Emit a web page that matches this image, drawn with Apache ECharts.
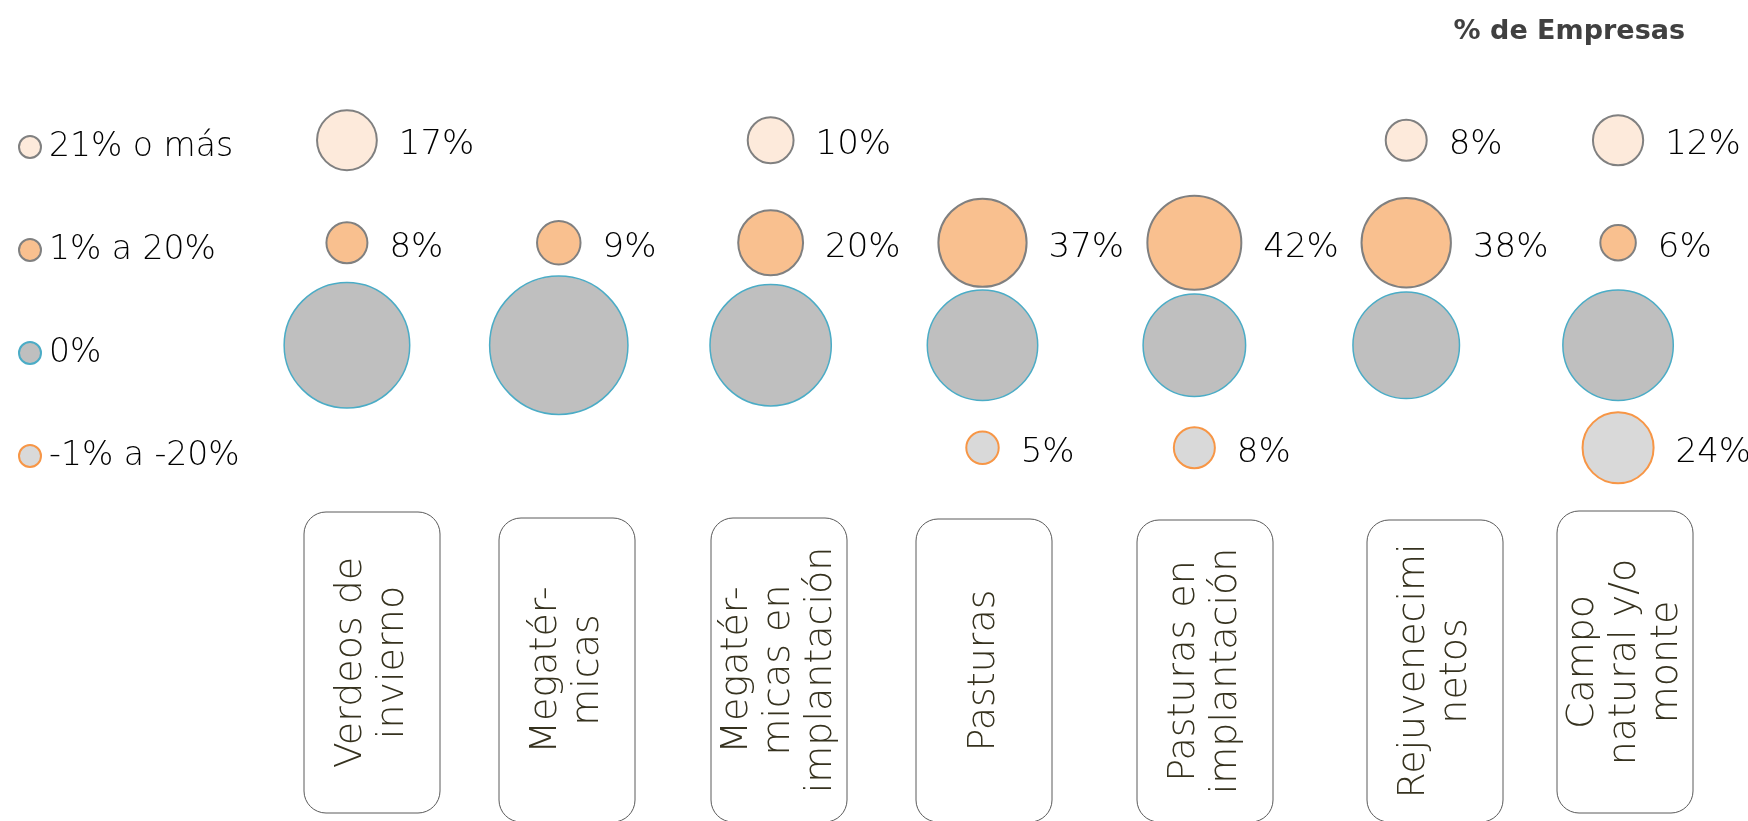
<!DOCTYPE html>
<html>
<head>
<meta charset="utf-8">
<script src="https://cdn.jsdelivr.net/npm/echarts@6/dist/echarts.min.js"></script>
<style>
html,body{margin:0;padding:0;background:#fff;}
#main{width:1748px;height:821px;}
</style>
</head>
<body>
<div id="main"></div>
<script>
// ---- data ----
const categories = ['Verdeos de\ninvierno', 'Megatér-\nmicas', 'Megatér-\nmicas en\nimplantación', 'Pasturas', 'Pasturas en\nimplantación', 'Rejuvenecimi\nnetos', 'Campo\nnatural y/o\nmonte'];
const rowNames = ['21% o más', '1% a 20%', '0%', '-1% a -20%'];
const vals21 = [17, null, 10, null, null, 8, 12];
const vals1to20 = [8, 9, 20, 37, 42, 38, 6];
const vals0 = [75, 91, 70, 58, 50, 54, 58];
const valsNeg = [null, null, null, 5, 8, null, 24];
const titleText = '% de Empresas';

// ---- layout / style ----
const FONT = '"DejaVu Sans", sans-serif';
const rowStyles = [
  { color: '#fdeadb', borderColor: '#808080', borderWidth: 2, label: true },
  { color: '#f9c08f', borderColor: '#808080', borderWidth: 2, label: true },
  { color: '#bfbfbf', borderColor: '#4bacc6', borderWidth: 1.5, label: false },
  { color: '#d9d9d9', borderColor: '#f79646', borderWidth: 2, label: true }
];
const boxCenters = [372, 567, 779, 984, 1205, 1435, 1625];
const boxTops = [512, 518, 518, 519, 520, 520, 511];
const boxBottoms = [813, 822, 822, 822, 822, 822, 813];
const BOX_W = 136;

const rows = [vals21, vals1to20, vals0, valsNeg];

const series = rows.map((vals, r) => ({
  name: rowNames[r],
  type: 'scatter',
  symbol: 'circle',
  data: vals.map((v, i) => v == null ? null : [i, r, v]).filter(d => d),
  symbolSize: d => 14.5 * Math.sqrt(d[2]),
  itemStyle: {
    color: rowStyles[r].color,
    borderColor: rowStyles[r].borderColor,
    borderWidth: rowStyles[r].borderWidth,
    opacity: 1
  },
  label: {
    show: rowStyles[r].label,
    position: 'right',
    distance: 21,
    offset: [0, 5],
    formatter: p => p.value[2] + '%',
    fontFamily: FONT,
    fontSize: 34,
    fontWeight: 300,
    color: '#000'
  },
  emphasis: { disabled: true },
  silent: true
}));

const graphics = [];
categories.forEach((c, i) => {
  const cx = boxCenters[i];
  const top = boxTops[i];
  const h = boxBottoms[i] - top;
  graphics.push({
    type: 'rect',
    shape: { x: cx - BOX_W / 2, y: top, width: BOX_W, height: h, r: 22 },
    style: { fill: '#fff', stroke: '#5a5a5a', lineWidth: 1 },
    z: 1
  });
  graphics.push({
    type: 'text',
    x: cx,
    y: top + h / 2,
    rotation: Math.PI / 2,
    style: {
      text: c,
      fontFamily: FONT,
      fontSize: 38,
      fontWeight: 300,
      lineHeight: 42,
      fill: '#36321f',
      align: 'center',
      verticalAlign: 'middle'
    },
    z: 2
  });
});

const chart = echarts.init(document.getElementById('main'), null, { renderer: 'canvas' });
chart.setOption({
  animation: false,
  backgroundColor: '#fff',
  title: {
    text: titleText,
    right: 58,
    top: 13,
    textStyle: { fontFamily: FONT, fontSize: 27, fontWeight: 'bold', color: '#404040' }
  },
  legend: {
    orient: 'vertical',
    left: 13,
    top: 122,
    itemWidth: 22,
    itemHeight: 22,
    itemGap: 63,
    icon: 'circle',
    selectedMode: false,
    data: rowNames,
    textStyle: { fontFamily: FONT, fontSize: 33, fontWeight: 300, color: '#000', lineHeight: 40, padding: [0, 0, 0, 3] }
  },
  grid: { left: 241, right: 24, top: 89, height: 410 },
  xAxis: {
    type: 'category',
    data: categories,
    show: false
  },
  yAxis: {
    type: 'category',
    data: rowNames,
    inverse: true,
    show: false
  },
  series: series,
  graphic: graphics
});
</script>
</body>
</html>
